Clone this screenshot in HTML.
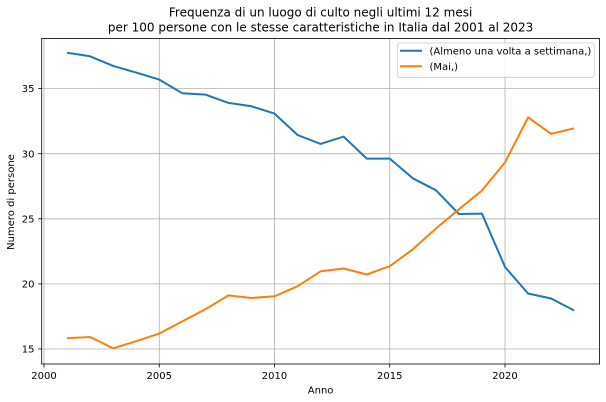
<!DOCTYPE html>
<html>
<head>
<meta charset="utf-8">
<style>
html,body{margin:0;padding:0;background:#fff;}
svg{display:block;}
text{font-family:"DejaVu Sans","Liberation Sans",sans-serif;fill:#000;}
</style>
</head>
<body>
<svg width="606" height="402" viewBox="0 0 606 402" xmlns="http://www.w3.org/2000/svg">
<rect x="0" y="0" width="606" height="402" fill="#fff"/>
<!-- title -->
<text x="320.6" y="16.5" font-size="12" text-anchor="middle">Frequenza di un luogo di culto negli ultimi 12 mesi</text>
<text x="320.6" y="31.6" font-size="12" text-anchor="middle">per 100 persone con le stesse caratteristiche in Italia dal 2001 al 2023</text>

<!-- grid -->
<g stroke="#b0b0b0" stroke-width="0.8" fill="none">
<line x1="44.0" y1="38.5" x2="44.0" y2="364"/>
<line x1="159.26" y1="38.5" x2="159.26" y2="364"/>
<line x1="274.51" y1="38.5" x2="274.51" y2="364"/>
<line x1="389.76" y1="38.5" x2="389.76" y2="364"/>
<line x1="505.01" y1="38.5" x2="505.01" y2="364"/>
<line x1="41.7" y1="349" x2="599.5" y2="349"/>
<line x1="41.7" y1="283.9" x2="599.5" y2="283.9"/>
<line x1="41.7" y1="218.8" x2="599.5" y2="218.8"/>
<line x1="41.7" y1="153.7" x2="599.5" y2="153.7"/>
<line x1="41.7" y1="88.6" x2="599.5" y2="88.6"/>
</g>

<!-- series -->
<polyline fill="none" stroke="#1f77b4" stroke-width="2" stroke-linejoin="round" stroke-linecap="butt"
points="67.06,52.7 90.11,56.3 113.16,65.9 136.21,72.6 159.26,79.6 182.31,93.3 205.36,94.6 228.41,102.9 251.46,106.3 274.51,113.6 297.56,135.0 320.61,143.9 343.66,136.6 366.71,158.6 389.76,158.6 412.81,178.3 435.86,190.2 458.91,214.0 481.96,213.6 505.01,267.0 528.06,293.5 551.11,298.5 574.16,310.5"/>
<polyline fill="none" stroke="#ff7f0e" stroke-width="2" stroke-linejoin="round" stroke-linecap="butt"
points="67.06,338.3 90.11,337.0 113.16,348.3 136.21,341.2 159.26,333.6 182.31,321.4 205.36,309.3 228.41,295.4 251.46,298.0 274.51,296.3 297.56,286.2 320.61,271.3 343.66,268.5 366.71,274.5 389.76,266.2 412.81,249.3 435.86,228.6 458.91,209.3 481.96,190.5 505.01,162.4 528.06,117.4 551.11,133.8 574.16,128.3"/>

<!-- spines -->
<rect x="41.7" y="38.5" width="557.8" height="325.5" fill="none" stroke="#000" stroke-width="0.8"/>

<!-- ticks -->
<g stroke="#000" stroke-width="0.8">
<line x1="44.0" y1="364" x2="44.0" y2="367.5"/>
<line x1="159.26" y1="364" x2="159.26" y2="367.5"/>
<line x1="274.51" y1="364" x2="274.51" y2="367.5"/>
<line x1="389.76" y1="364" x2="389.76" y2="367.5"/>
<line x1="505.01" y1="364" x2="505.01" y2="367.5"/>
<line x1="38.2" y1="349" x2="41.7" y2="349"/>
<line x1="38.2" y1="283.9" x2="41.7" y2="283.9"/>
<line x1="38.2" y1="218.8" x2="41.7" y2="218.8"/>
<line x1="38.2" y1="153.7" x2="41.7" y2="153.7"/>
<line x1="38.2" y1="88.6" x2="41.7" y2="88.6"/>
</g>
<g font-size="10" text-anchor="middle">
<text x="44.0" y="379.2">2000</text>
<text x="159.26" y="379.2">2005</text>
<text x="274.51" y="379.2">2010</text>
<text x="389.76" y="379.2">2015</text>
<text x="505.01" y="379.2">2020</text>
</g>
<g font-size="10" text-anchor="end">
<text x="34.5" y="352.6">15</text>
<text x="34.5" y="287.5">20</text>
<text x="34.5" y="222.4">25</text>
<text x="34.5" y="157.3">30</text>
<text x="34.5" y="92.2">35</text>
</g>

<!-- axis labels -->
<text x="320.6" y="393.5" font-size="10" text-anchor="middle">Anno</text>
<text transform="translate(14,202) rotate(-90)" font-size="10" text-anchor="middle">Numero di persone</text>

<!-- legend -->
<rect x="397.3" y="43" width="197" height="34.3" rx="2.5" ry="2.5" fill="#fff" fill-opacity="0.8" stroke="#cccccc" stroke-width="0.8"/>
<line x1="400" y1="50.7" x2="422" y2="50.7" stroke="#1f77b4" stroke-width="2"/>
<line x1="400" y1="66.3" x2="422" y2="66.3" stroke="#ff7f0e" stroke-width="2"/>
<text x="429.5" y="54.3" font-size="10">(Almeno una volta a settimana,)</text>
<text x="429.5" y="69.9" font-size="10">(Mai,)</text>
</svg>
</body>
</html>
